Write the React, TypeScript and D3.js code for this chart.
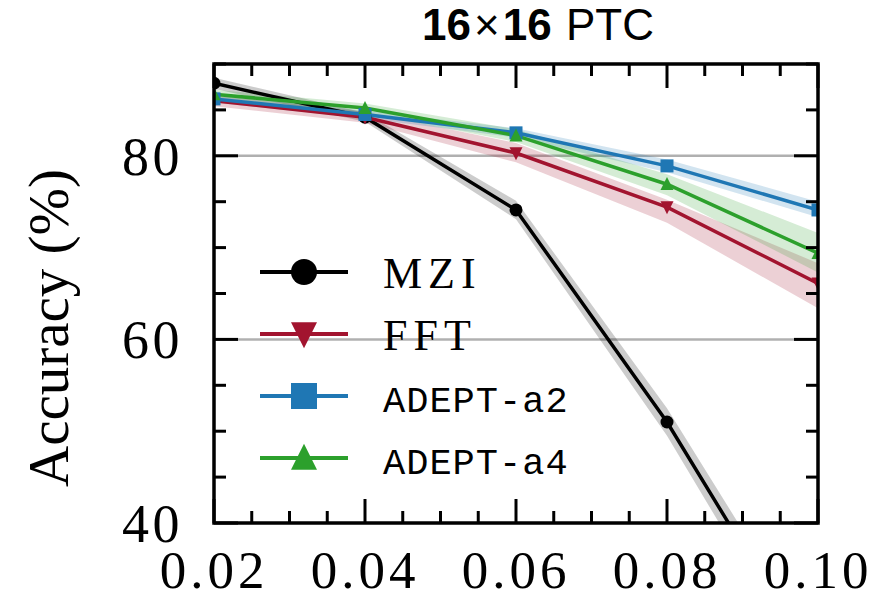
import React from "react";
import * as d3 from "d3";

const xs = [0.02, 0.04, 0.06, 0.08, 0.1];
const xTickLabels = ["0.02", "0.04", "0.06", "0.08", "0.10"];
const yTicks = [40, 60, 80];

const mzi = [87.9, 84.2, 74.1, 51.0, 24.0];
const mziLo = [87.3, 83.7, 73.1, 49.5, 22.0];
const mziHi = [88.5, 84.7, 75.1, 52.5, 26.0];

const fft = [86.0, 84.2, 80.3, 74.4, 66.1];
const fftLo = [85.4, 83.6, 79.3, 72.7, 63.4];
const fftHi = [86.6, 84.8, 81.4, 75.2, 68.3];

const a2 = [86.2, 84.5, 82.5, 78.9, 74.1];
const a2Lo = [85.8, 84.1, 82.0, 78.2, 73.3];
const a2Hi = [86.6, 84.9, 83.0, 79.6, 75.0];

const a4 = [86.7, 85.2, 82.2, 76.9, 69.4];
const a4Lo = [86.2, 84.7, 81.5, 75.7, 67.3];
const a4Hi = [87.2, 85.7, 82.9, 78.0, 71.6];

const seriesNames = ["MZI", "FFT", "ADEPT-a2", "ADEPT-a4"];
const colors = ["#000000", "#A2142F", "#1f77b4", "#2ca02c"];
const markers = ["circle", "tridown", "square", "triup"];

const L = 214, R = 818, T = 64, B = 523;

function Marker({ kind, x, y, s, color }: { kind: string; x: number; y: number; s: number; color: string }) {
  const h = s / 2;
  if (kind === "circle") return <circle cx={x} cy={y} r={h} fill={color} />;
  if (kind === "square") return <rect x={x - h} y={y - h} width={s} height={s} fill={color} />;
  if (kind === "triup")
    return <path d={`M${x},${y - h * 1.1}L${x + h},${y + h * 0.9}L${x - h},${y + h * 0.9}Z`} fill={color} />;
  return <path d={`M${x},${y + h * 1.1}L${x + h},${y - h * 0.9}L${x - h},${y - h * 0.9}Z`} fill={color} />;
}

export default function App() {
  const x = d3.scaleLinear().domain([0.02, 0.1]).range([L, R]);
  const y = d3.scaleLinear().domain([40, 90]).range([B, T]);

  const data = [
    { v: mzi, lo: mziLo, hi: mziHi },
    { v: fft, lo: fftLo, hi: fftHi },
    { v: a2, lo: a2Lo, hi: a2Hi },
    { v: a4, lo: a4Lo, hi: a4Hi },
  ];

  const line = d3.line<number>().x((_, i) => x(xs[i])).y((d) => y(d));
  const area = (lo: number[], hi: number[]) =>
    d3
      .area<number>()
      .x((_, i) => x(xs[i]))
      .y0((_, i) => y(lo[i]))
      .y1((_, i) => y(hi[i]))(lo) as string;

  const xMinor = d3.range(0.02, 0.1001, 0.005);
  const yMinor = d3.range(40, 90.01, 5);

  const serif = "'Liberation Serif', 'DejaVu Serif', serif";
  const mono = "'Liberation Mono', 'DejaVu Sans Mono', monospace";

  const ticks: JSX.Element[] = [];
  xMinor.forEach((t, i) => {
    const major = Math.abs(((t - 0.02) / 0.02) - Math.round((t - 0.02) / 0.02)) < 1e-6;
    const len = major ? 24 : 12;
    const px = x(t);
    ticks.push(<line key={"xb" + i} x1={px} x2={px} y1={B} y2={B - len} />);
    ticks.push(<line key={"xt" + i} x1={px} x2={px} y1={T} y2={T + len} />);
  });
  yMinor.forEach((t, i) => {
    const major = Math.round(t) % 20 === 0;
    const len = major ? 24 : 12;
    const py = y(t);
    ticks.push(<line key={"yl" + i} x1={L} x2={L + len} y1={py} y2={py} />);
    ticks.push(<line key={"yr" + i} x1={R} x2={R - len} y1={py} y2={py} />);
  });

  const legendY = [272, 334, 396, 458];

  return (
    <svg width={877} height={600} style={{ position: "absolute", left: 0, top: 0, background: "#fff" }}>
      <defs>
        <clipPath id="plotclip">
          <rect x={L} y={T} width={R - L} height={B - T} />
        </clipPath>
      </defs>
      <text x={538} y={40} textAnchor="middle" fontFamily="'Liberation Sans', Arial, sans-serif" fontSize={44} fill="#000">
        <tspan fontWeight="bold">16</tspan>
        <tspan dx={3}>×</tspan>
        <tspan dx={3} fontWeight="bold">16</tspan>
        <tspan dx={2}> PTC</tspan>
      </text>

      {/* grid */}
      {[60, 80].map((g) => (
        <line key={g} x1={L} x2={R} y1={y(g)} y2={y(g)} stroke="#b0b0b0" strokeWidth={2.5} />
      ))}

      <g clipPath="url(#plotclip)">
        {data.map((d, i) => (
          <path key={"a" + i} d={area(d.lo, d.hi)} fill={i === 0 ? "#000" : colors[i]} opacity={0.2} stroke="none" />
        ))}
        {data.map((d, i) => (
          <path key={"l" + i} d={line(d.v) as string} fill="none" stroke={colors[i]} strokeWidth={3.5} />
        ))}
        {data.map((d, i) =>
          d.v.map((v, j) => (
            <Marker key={"m" + i + "-" + j} kind={markers[i]} x={x(xs[j])} y={y(v)} s={13} color={colors[i]} />
          ))
        )}
      </g>

      {/* legend */}
      {seriesNames.map((n, i) => (
        <g key={"lg" + i}>
          <line x1={260} x2={348} y1={legendY[i]} y2={legendY[i]} stroke={colors[i]} strokeWidth={4} />
          <Marker kind={markers[i]} x={304} y={legendY[i]} s={26} color={colors[i]} />
          {i < 2 ? (
            <text x={383} y={legendY[i] + 16} fontFamily={serif} fontSize={44} letterSpacing={6} fill="#000">
              {n}
            </text>
          ) : (
            <text x={383} y={legendY[i] + 16} fontFamily={mono} fontSize={37} letterSpacing={1} fill="#000">
              {n}
            </text>
          )}
        </g>
      ))}

      {/* frame and ticks */}
      <g stroke="#000" strokeWidth={3}>{ticks}</g>
      <rect x={L} y={T} width={R - L} height={B - T} fill="none" stroke="#000" strokeWidth={3.5} />

      {/* tick labels */}
      {xs.map((t, i) => (
        <text key={"xl" + i} x={x(t)} y={588} textAnchor="middle" fontFamily={serif} fontSize={53} letterSpacing={4} fill="#000">
          {xTickLabels[i]}
        </text>
      ))}
      {yTicks.map((t) => (
        <text key={"yl" + t} x={183} y={y(t) + 19} textAnchor="end" fontFamily={serif} fontSize={54} letterSpacing={3.5} fill="#000">
          {String(t)}
        </text>
      ))}
      <text
        transform={`translate(68,328) rotate(-90)`}
        textAnchor="middle"
        fontFamily={serif}
        fontSize={57}
        fill="#000"
      >
        Accuracy (%)
      </text>
    </svg>
  );
}
